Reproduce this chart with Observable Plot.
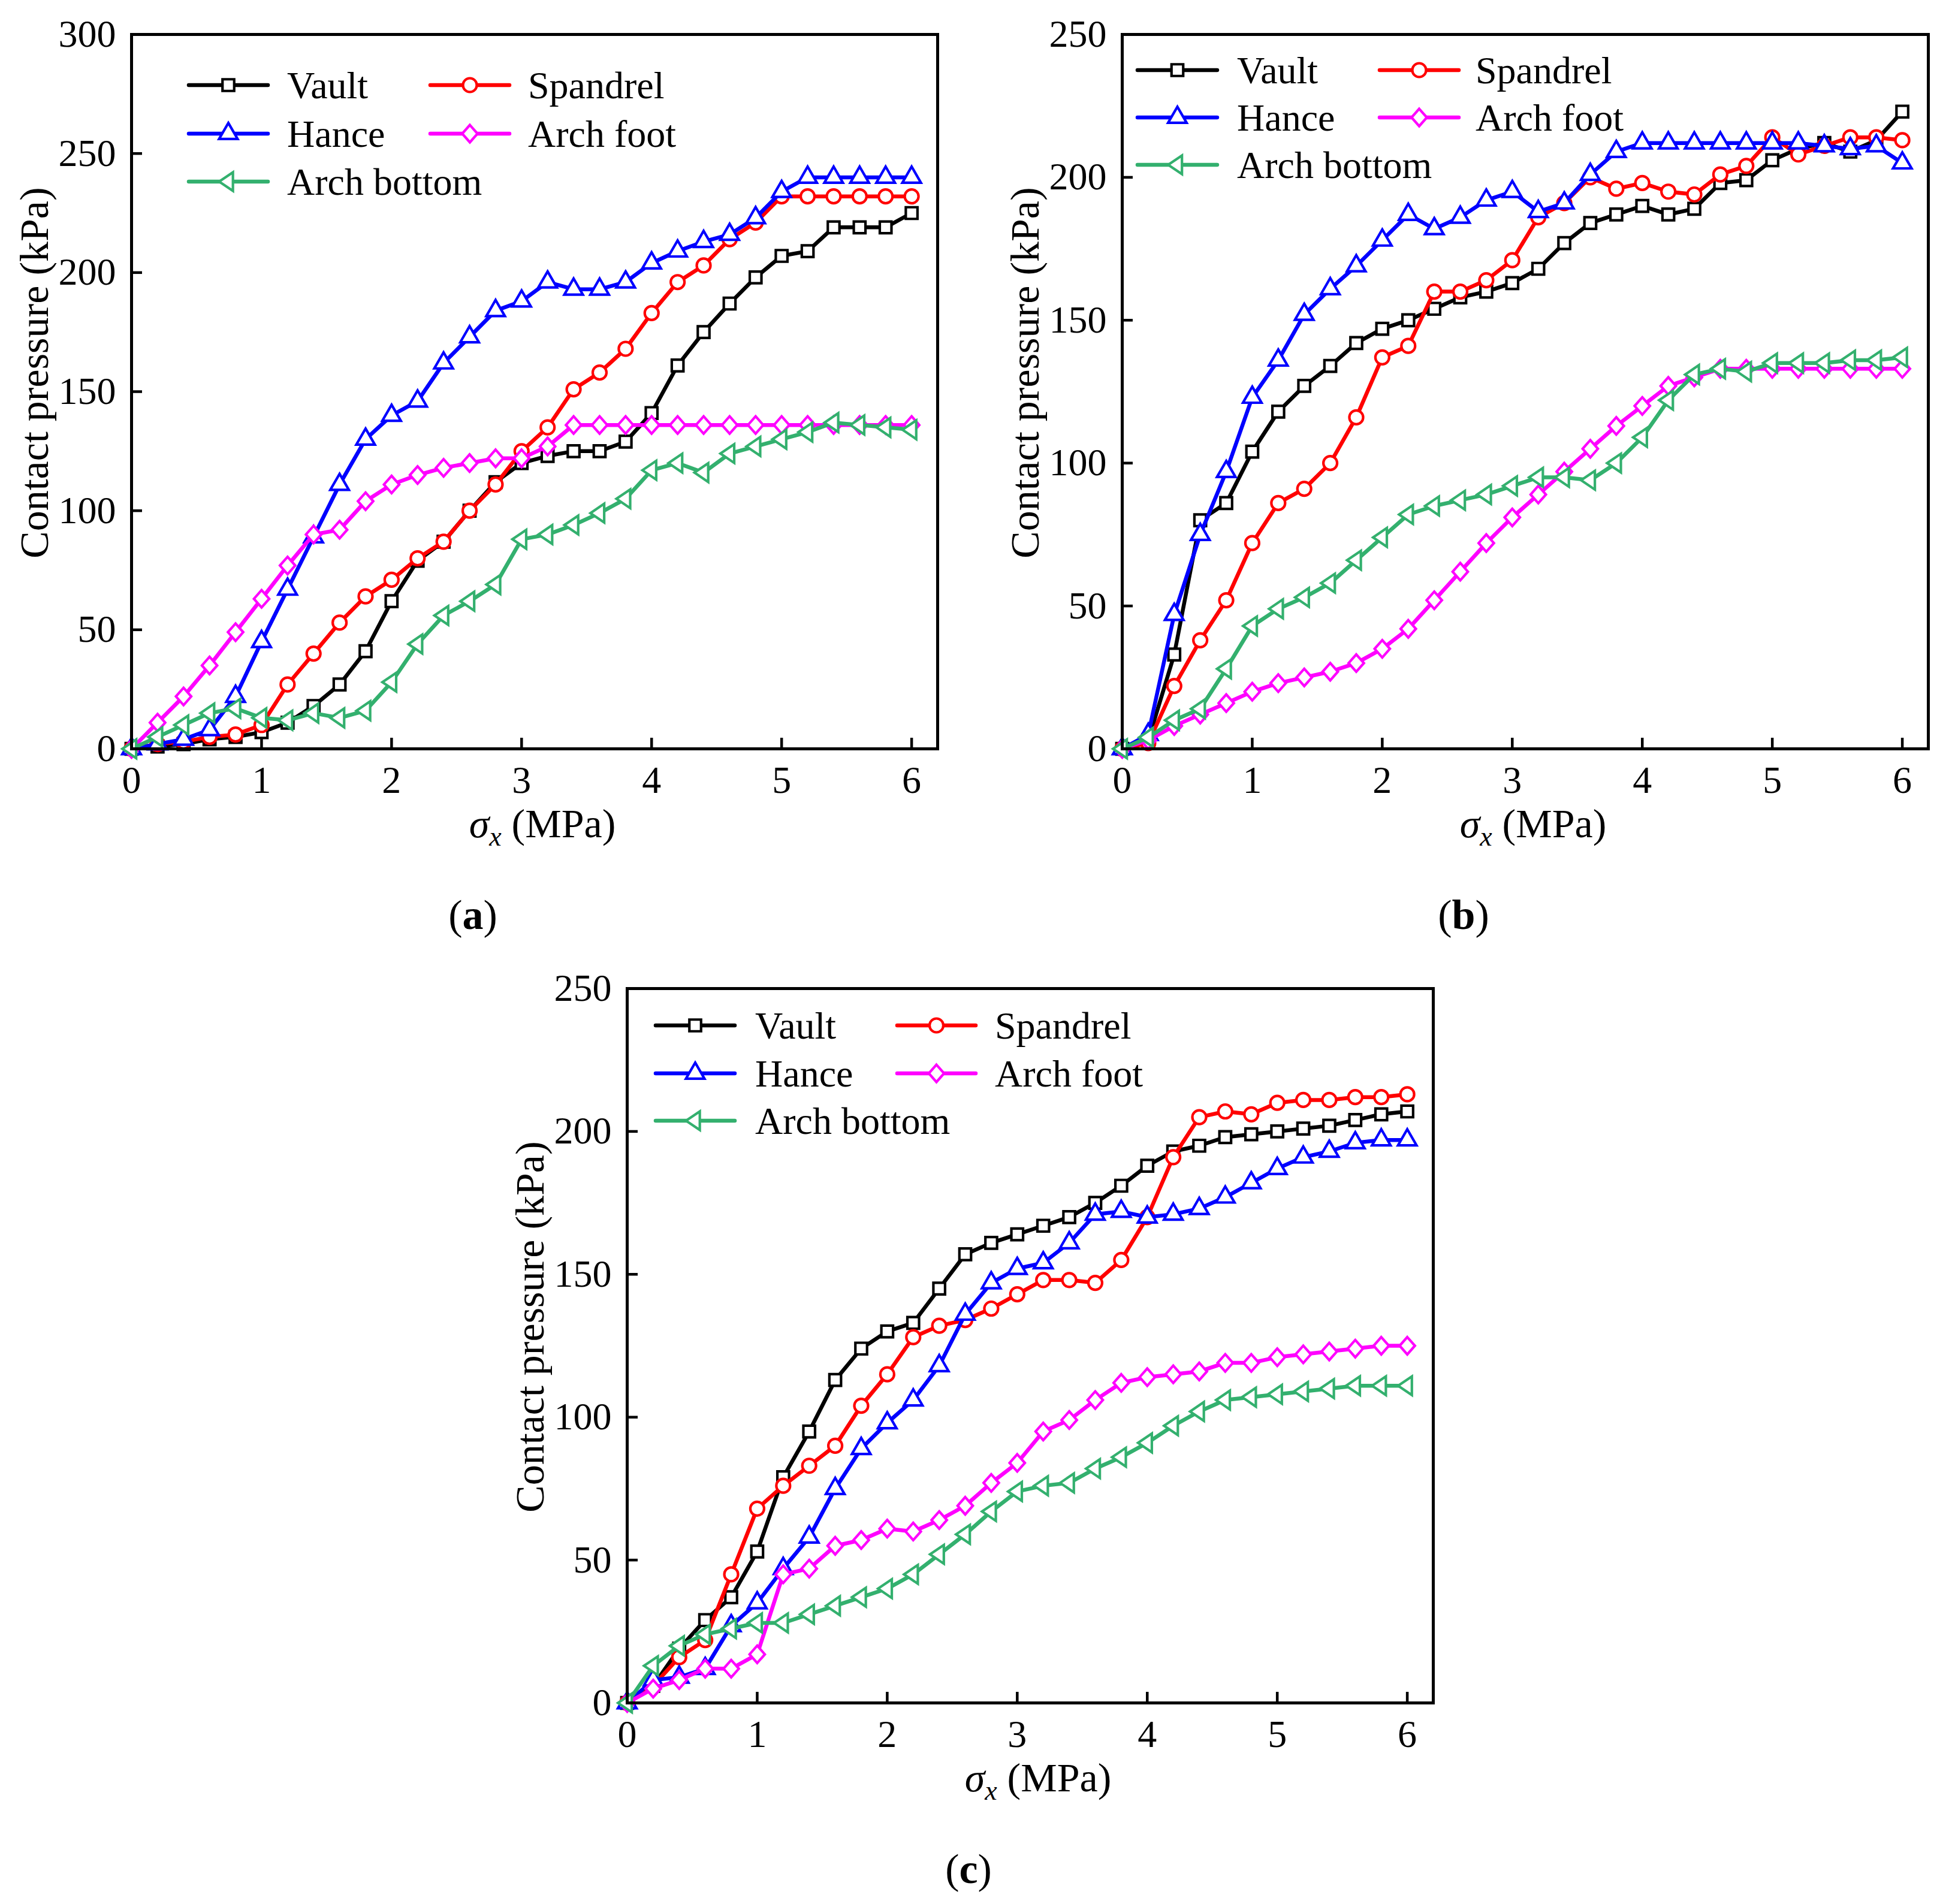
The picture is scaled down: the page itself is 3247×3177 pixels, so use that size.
<!DOCTYPE html>
<html>
<head>
<meta charset="utf-8">
<script src="https://cdn.jsdelivr.net/npm/d3@7"></script>
<script src="https://cdn.jsdelivr.net/npm/@observablehq/plot@0.6"></script>
<style>
  body { margin: 0; background: #fff; }
  #fig { position: relative; width: 3247px; height: 3177px; background: #fff; font-family: "Liberation Serif", "Times New Roman", serif; }
  #fig > svg { position: absolute; }
</style>
</head>
<body>
<div id="fig"></div>
<script>
// stress steps (MPa)
const sigma = [0, 0.2, 0.4, 0.6, 0.8, 1.0, 1.2, 1.4, 1.6, 1.8, 2.0, 2.2, 2.4, 2.6, 2.8, 3.0,
               3.2, 3.4, 3.6, 3.8, 4.0, 4.2, 4.4, 4.6, 4.8, 5.0, 5.2, 5.4, 5.6, 5.8, 6.0];
const xTicks = [0, 1, 2, 3, 4, 5, 6];
const yTicksA = [0, 50, 100, 150, 200, 250, 300];
const yTicksBC = [0, 50, 100, 150, 200, 250];
const seriesNames = ["Vault", "Spandrel", "Hance", "Arch foot", "Arch bottom"];

// panel (a), contact pressure (kPa)
const aVault      = [0, 1, 2, 4, 5, 7, 11, 18, 27, 41, 62, 79, 87, 100, 112, 120, 123, 125, 125, 129, 141, 161, 175, 187, 198, 207, 209, 219, 219, 219, 225];
const aSpandrel   = [0, 2, 3, 5, 6, 10, 27, 40, 53, 64, 71, 80, 87, 100, 111, 125, 135, 151, 158, 168, 183, 196, 203, 214, 221, 232, 232, 232, 232, 232, 232];
const aHance      = [0, 2, 4, 8, 22, 45, 67, 89, 111, 130, 140, 146, 162, 173, 184, 188, 196, 193, 193, 196, 204, 209, 213, 216, 223, 234, 240, 240, 240, 240, 240];
const aArchFoot   = [0, 11, 22, 35, 49, 63, 77, 90, 92, 104, 111, 115, 118, 120, 122, 122, 127, 136, 136, 136, 136, 136, 136, 136, 136, 136, 136, 136, 136, 136, 136];
const aArchBottom = [0, 5, 10, 15, 17, 13, 12, 15, 13, 16, 28, 44, 56, 62, 69, 88, 90, 94, 99, 105, 117, 120, 116, 124, 127, 130, 133, 137, 136, 135, 134];

// panel (b)
const bVault      = [0, 3, 33, 80, 86, 104, 118, 127, 134, 142, 147, 150, 154, 158, 160, 163, 168, 177, 184, 187, 190, 187, 189, 198, 199, 206, 210, 212, 209, 213, 223];
const bSpandrel   = [0, 2, 22, 38, 52, 72, 86, 91, 100, 116, 137, 141, 160, 160, 164, 171, 186, 191, 200, 196, 198, 195, 194, 201, 204, 214, 208, 211, 214, 214, 213];
const bHance      = [0, 5, 47, 75, 97, 123, 136, 152, 161, 169, 178, 187, 182, 186, 192, 195, 188, 191, 201, 209, 212, 212, 212, 212, 212, 212, 212, 211, 210, 211, 205];
const bArchFoot   = [0, 3, 8, 12, 16, 20, 23, 25, 27, 30, 35, 42, 52, 62, 72, 81, 89, 97, 105, 113, 120, 127, 130, 133, 133, 133, 133, 133, 133, 133, 133];
const bArchBottom = [0, 4, 10, 14, 28, 43, 49, 53, 58, 66, 74, 82, 85, 87, 89, 92, 95, 95, 94, 100, 109, 122, 131, 133, 132, 135, 135, 135, 136, 136, 137];

// panel (c)
const cVault      = [0, 6, 19, 29, 37, 53, 79, 95, 113, 124, 130, 133, 145, 157, 161, 164, 167, 170, 175, 181, 188, 193, 195, 198, 199, 200, 201, 202, 204, 206, 207];
const cSpandrel   = [0, 6, 16, 22, 45, 68, 76, 83, 90, 104, 115, 128, 132, 134, 138, 143, 148, 148, 147, 155, 170, 191, 205, 207, 206, 210, 211, 211, 212, 212, 213];
const cHance      = [0, 8, 9, 12, 27, 35, 47, 58, 75, 89, 98, 106, 118, 136, 147, 152, 154, 161, 171, 172, 170, 171, 173, 177, 182, 187, 191, 193, 196, 197, 197];
const cArchFoot   = [0, 5, 8, 12, 12, 17, 45, 47, 55, 57, 61, 60, 64, 69, 77, 84, 95, 99, 106, 112, 114, 115, 116, 119, 119, 121, 122, 123, 124, 125, 125];
const cArchBottom = [0, 13, 20, 24, 26, 28, 28, 31, 34, 37, 40, 45, 52, 59, 67, 74, 76, 77, 82, 86, 91, 97, 102, 106, 107, 108, 109, 110, 111, 111, 111];

const colors = {
  "Vault": "#000000",
  "Spandrel": "#ff0000",
  "Hance": "#0000ff",
  "Arch foot": "#ff00ff",
  "Arch bottom": "#33b06e"
};

// left-pointing triangle
const leftTriangle = {
  draw(ctx, size) {
    const s = Math.sqrt(size);
    const w = 1.18 * s, h = 1.6 * s;
    ctx.moveTo(-w * 2 / 3, 0);
    ctx.lineTo(w / 3, -h / 2);
    ctx.lineTo(w / 3, h / 2);
    ctx.closePath();
  }
};
// slightly tall diamond
const diamond = {
  draw(ctx, size) {
    const s = Math.sqrt(size);
    const w = 0.6 * s, h = 0.68 * s;
    ctx.moveTo(0, -h);
    ctx.lineTo(w, 0);
    ctx.lineTo(0, h);
    ctx.lineTo(-w, 0);
    ctx.closePath();
  }
};
const symbols = {
  "Vault": {symbol: "square", r: 11},
  "Spandrel": {symbol: "circle", r: 11.5},
  "Hance": {symbol: "triangle", r: 11.5},
  "Arch foot": {symbol: diamond, r: 12},
  "Arch bottom": {symbol: leftTriangle, r: 11}
};

const FRAME_W = 1345, FRAME_H = 1192;
const ML = 219, MT = 57, MR = 40, MB = 60;

const panels = [
  {tag: "a", left: 219, top: 57, yMax: 300, yTicks: yTicksA,
   data: [aVault, aSpandrel, aHance, aArchFoot, aArchBottom],
   legend: {c1: [96, 228, 260], c2: [499, 631, 662], rows: [85, 166, 246]}},
  {tag: "b", left: 1872, top: 57, yMax: 250, yTicks: yTicksBC,
   data: [bVault, bSpandrel, bHance, bArchFoot, bArchBottom],
   legend: {c1: [26, 159, 192], c2: [430, 562, 590], rows: [60, 139, 218]}},
  {tag: "c", left: 1046, top: 1649, yMax: 250, yTicks: yTicksBC,
   data: [cVault, cSpandrel, cHance, cArchFoot, cArchBottom],
   legend: {c1: [48, 180, 214], c2: [451, 582, 614], rows: [62, 142, 221]}}
];

const fig = d3.select("#fig");

panels.forEach(p => {
  const marks = [];
  seriesNames.forEach((name, k) => {
    const rows = sigma.map((x, i) => ({x, y: p.data[k][i]}));
    marks.push(Plot.line(rows, {x: "x", y: "y", stroke: colors[name], strokeWidth: 6.5, strokeLinejoin: "round"}));
    marks.push(Plot.dot(rows, {x: "x", y: "y", symbol: () => symbols[name].symbol, r: symbols[name].r,
      fill: "white", stroke: colors[name], strokeWidth: 4.2}));
  });
  marks.push(Plot.axisX({ticks: xTicks, tickSize: -18, tickPadding: 46, strokeWidth: 4.5, label: null, tickFormat: d3.format("d")}));
  marks.push(Plot.axisY({ticks: p.yTicks, tickSize: -18, tickPadding: 44, strokeWidth: 4.5, label: null, tickFormat: d3.format("d")}));
  marks.push(Plot.frame({stroke: "black", strokeWidth: 5}));

  const chart = Plot.plot({
    width: ML + FRAME_W + MR,
    height: MT + FRAME_H + MB,
    marginLeft: ML, marginTop: MT, marginRight: MR, marginBottom: MB,
    x: {domain: [0, 6.2]},
    y: {domain: [0, p.yMax]},
    style: {fontFamily: '"Liberation Serif", "Times New Roman", serif', fontSize: "64px", color: "black", background: "white", overflow: "visible"},
    marks
  });
  d3.select(chart).style("left", (p.left - ML) + "px").style("top", (p.top - MT) + "px");
  fig.append(() => chart);
});

// overlay for legends and axis titles
const over = fig.append("svg")
  .attr("width", 3247).attr("height", 3177)
  .style("left", "0px").style("top", "0px")
  .style("font-family", '"Liberation Serif", "Times New Roman", serif')
  .style("pointer-events", "none");

const legendOrder = [["Vault", 0, 0], ["Spandrel", 1, 0], ["Hance", 0, 1], ["Arch foot", 1, 1], ["Arch bottom", 0, 2]];

panels.forEach(p => {
  const g = over.append("g").attr("transform", `translate(${p.left},${p.top})`);
  // legend
  legendOrder.forEach(([name, col, row]) => {
    const c = col === 0 ? p.legend.c1 : p.legend.c2;
    const y = p.legend.rows[row];
    g.append("line").attr("x1", c[0]).attr("x2", c[1]).attr("y1", y).attr("y2", y)
      .attr("stroke", colors[name]).attr("stroke-width", 6.5).attr("stroke-linecap", "round");
    const s = symbols[name];
    const sym = typeof s.symbol === "string"
      ? {square: d3.symbolSquare, circle: d3.symbolCircle, triangle: d3.symbolTriangle}[s.symbol]
      : s.symbol;
    g.append("path").attr("d", d3.symbol(sym, Math.PI * s.r * s.r)())
      .attr("transform", `translate(${(c[0] + c[1]) / 2},${y})`)
      .attr("fill", "white").attr("stroke", colors[name]).attr("stroke-width", 4.2);
    g.append("text").attr("x", c[2]).attr("y", y + 22).attr("font-size", 64).text(name);
  });
  // y title
  g.append("text").attr("transform", `translate(-163,565) rotate(-90)`)
    .attr("text-anchor", "middle").attr("dy", "0.35em").attr("font-size", 68)
    .text("Contact pressure (kPa)");
  // x title
  const xt = g.append("text").attr("x", 686).attr("y", 1340).attr("text-anchor", "middle").attr("font-size", 68);
  xt.append("tspan").attr("font-style", "italic").text("σ");
  xt.append("tspan").attr("font-style", "italic").attr("font-size", 46).attr("dy", 14).text("x");
  xt.append("tspan").attr("dy", -14).text(" (MPa)");
  // panel tag
  const pt = g.append("text").attr("x", 570).attr("y", 1493).attr("text-anchor", "middle").attr("font-size", 70);
  pt.append("tspan").text("(");
  pt.append("tspan").attr("font-weight", "bold").text(p.tag);
  pt.append("tspan").text(")");
});
</script>
</body>
</html>
